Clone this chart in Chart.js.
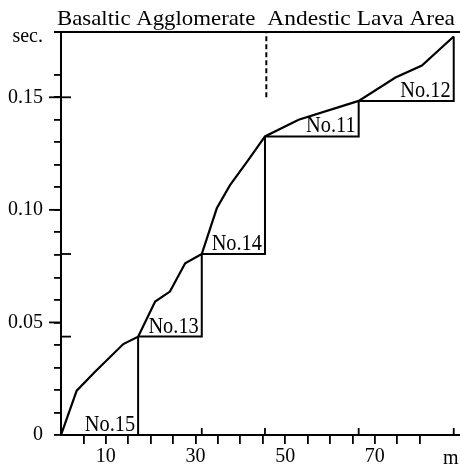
<!DOCTYPE html>
<html>
<head>
<meta charset="utf-8">
<script src="https://cdn.jsdelivr.net/npm/chart.js@4.4.1/dist/chart.umd.min.js"></script>
<style>
    html, body { margin: 0; padding: 0; background: #fff; }
    #wrap { width: 460px; height: 468px; }
</style>
</head>
<body>
<div id="wrap"><canvas id="myChart" width="460" height="468"></canvas></div>
<script>
// Travel time curve: distance (m) and time (sec)
const distM = [0, 3.5, 7.6, 13.9, 17.2, 21.0, 24.3, 27.7, 31.4, 34.75, 37.7, 41.8, 45.5, 53.0, 66.4, 74.6, 80.5, 87.6];
const timeSec = [0, 0.0197, 0.0281, 0.0404, 0.0437, 0.0593, 0.0637, 0.0763, 0.0804, 0.1007, 0.111, 0.1222, 0.1326, 0.140, 0.1484, 0.1588, 0.1641, 0.177];

// Stations, their boundaries (m) and the times at those boundaries (sec)
const stationNames = ['No.15', 'No.13', 'No.14', 'No.11', 'No.12'];
const stationBounds = [0, 17.2, 31.4, 45.5, 66.4, 87.6];
const stationLevels = [0, 0.0437, 0.0804, 0.1326, 0.1484, 0.177];

// Geology areas and the dashed boundary mark between them
const areaNames = ['Basaltic Agglomerate', 'Andestic Lava Area'];
const areaBoundaryM = 45.8;
const areaMarkRange = [0.15, 0.179];

// Axis labels
const xLabels = [10, 30, 50, 70];
const yLabels = [0, 0.05, 0.10, 0.15];
const yInnerTicks = [0.0437, 0.0804, 0.15];
const xUnit = 'm';
const yUnit = 'sec.';

const serif = "'Liberation Serif', 'DejaVu Serif', serif";

// Step outline for each station: horizontal at start level, vertical at the end
function buildSteps() {
    const pts = [];
    for (let i = 0; i < stationNames.length; i++) {
        pts.push({x: stationBounds[i], y: stationLevels[i]});
        pts.push({x: stationBounds[i + 1], y: stationLevels[i]});
        pts.push({x: stationBounds[i + 1], y: stationLevels[i + 1]});
        pts.push({x: stationBounds[i + 1], y: null});
    }
    return pts;
}

function isLabel(list, v) {
    return list.some(l => Math.abs(l - v) < 1e-6);
}

// Draw text stretched horizontally to fill a given span
function fitText(ctx, text, x0, x1, baseline, size) {
    ctx.font = size + 'px ' + serif;
    const w = ctx.measureText(text).width;
    ctx.save();
    ctx.translate(x0, baseline);
    ctx.scale((x1 - x0) / w, 1);
    ctx.textAlign = 'left';
    ctx.textBaseline = 'alphabetic';
    ctx.fillText(text, 0, 0);
    ctx.restore();
}

const extrasPlugin = {
    id: 'extras',
    afterDraw(chart) {
        const ctx = chart.ctx;
        const xs = chart.scales.x;
        const ys = chart.scales.y;
        const area = chart.chartArea;
        ctx.save();
        ctx.strokeStyle = '#000';
        ctx.fillStyle = '#000';

        // top frame line
        ctx.lineWidth = 2;
        ctx.beginPath();
        ctx.moveTo(area.left - 7, area.top);
        ctx.lineTo(area.right, area.top);
        ctx.stroke();

        // longer marks at labelled y values
        ctx.lineWidth = 1.8;
        yLabels.forEach(v => {
            if (v === 0) return;
            const py = ys.getPixelForValue(v);
            ctx.beginPath();
            ctx.moveTo(area.left - 12, py);
            ctx.lineTo(area.left, py);
            ctx.stroke();
        });
        yInnerTicks.forEach(v => {
            const py = ys.getPixelForValue(v);
            ctx.beginPath();
            ctx.moveTo(area.left, py);
            ctx.lineTo(area.left + 10, py);
            ctx.stroke();
        });

        // upward marks on the x axis at station boundaries
        stationBounds.slice(2).forEach(v => {
            const px = xs.getPixelForValue(v);
            ctx.beginPath();
            ctx.moveTo(px, area.bottom);
            ctx.lineTo(px, area.bottom - 7);
            ctx.stroke();
        });

        // station names, tucked into each step corner
        ctx.textAlign = 'right';
        ctx.textBaseline = 'alphabetic';
        ctx.font = '21px ' + serif;
        stationNames.forEach((name, i) => {
            const px = xs.getPixelForValue(stationBounds[i + 1]) - 3;
            const py = ys.getPixelForValue(stationLevels[i]) - 4;
            ctx.save();
            ctx.translate(px, py);
            ctx.scale(0.97, 1.08);
            ctx.fillText(name, 0, 0);
            ctx.restore();
        });

        // area names above the frame
        const bx = xs.getPixelForValue(areaBoundaryM);
        fitText(ctx, areaNames[0], area.left - 4, bx - 11, area.top - 7, 22);
        fitText(ctx, areaNames[1], bx + 1, area.right - 5, area.top - 7, 22);

        // units
        ctx.font = '20px ' + serif;
        ctx.textAlign = 'right';
        ctx.fillText(yUnit, area.left - 18, area.top + 10);
        ctx.textAlign = 'left';
        ctx.fillText(xUnit, area.right - 17, area.bottom + 29);
        ctx.restore();
    }
};

const ctx = document.getElementById('myChart').getContext('2d');
const myChart = new Chart(ctx, {
    type: 'scatter',
    data: {
        datasets: [
            {
                label: 'travel time',
                data: distM.map((d, i) => ({x: d, y: timeSec[i]})),
                showLine: true,
                borderColor: '#000',
                borderWidth: 2.2,
                pointRadius: 0,
                tension: 0
            },
            {
                label: 'stations',
                data: buildSteps(),
                showLine: true,
                spanGaps: false,
                borderColor: '#000',
                borderWidth: 2,
                pointRadius: 0
            },
            {
                label: 'area boundary',
                data: areaMarkRange.map(v => ({x: areaBoundaryM, y: v})),
                showLine: true,
                borderColor: '#000',
                borderWidth: 2,
                borderDash: [5, 3],
                pointRadius: 0
            }
        ]
    },
    options: {
        responsive: false,
        animation: false,
        devicePixelRatio: 1,
        layout: {
            padding: {top: 32, right: 0, bottom: 0, left: 0}
        },
        plugins: {
            legend: {display: false},
            tooltip: {enabled: false}
        },
        scales: {
            x: {
                type: 'linear',
                min: 0,
                max: 89,
                afterBuildTicks: s => {
                    s.ticks = s.ticks.filter(t => t.value > 0 && t.value < 89);
                },
                afterFit: s => {
                    s.height = 33;
                },
                ticks: {
                    stepSize: 5,
                    autoSkip: false,
                    maxRotation: 0,
                    padding: 1,
                    color: '#000',
                    font: {family: serif, size: 20},
                    callback: v => isLabel(xLabels, v) ? String(v) : ''
                },
                grid: {
                    drawOnChartArea: false,
                    drawTicks: true,
                    tickLength: 9,
                    color: '#000',
                    lineWidth: 1.8
                },
                border: {display: true, color: '#000', width: 2}
            },
            y: {
                min: 0,
                max: 0.179,
                afterBuildTicks: s => {
                    s.ticks = s.ticks.filter(t => Math.abs(t.value * 100 - Math.round(t.value * 100)) < 1e-6);
                },
                afterFit: s => {
                    s.width = 61;
                },
                ticks: {
                    stepSize: 0.01,
                    autoSkip: false,
                    padding: 11,
                    color: '#000',
                    font: {family: serif, size: 20},
                    callback: v => isLabel(yLabels, v) ? (v === 0 ? '0' : v.toFixed(2)) : ''
                },
                grid: {
                    drawOnChartArea: false,
                    drawTicks: true,
                    tickLength: 7,
                    color: '#000',
                    lineWidth: 1.8
                },
                border: {display: true, color: '#000', width: 2}
            }
        }
    },
    plugins: [extrasPlugin]
});
</script>
</body>
</html>
